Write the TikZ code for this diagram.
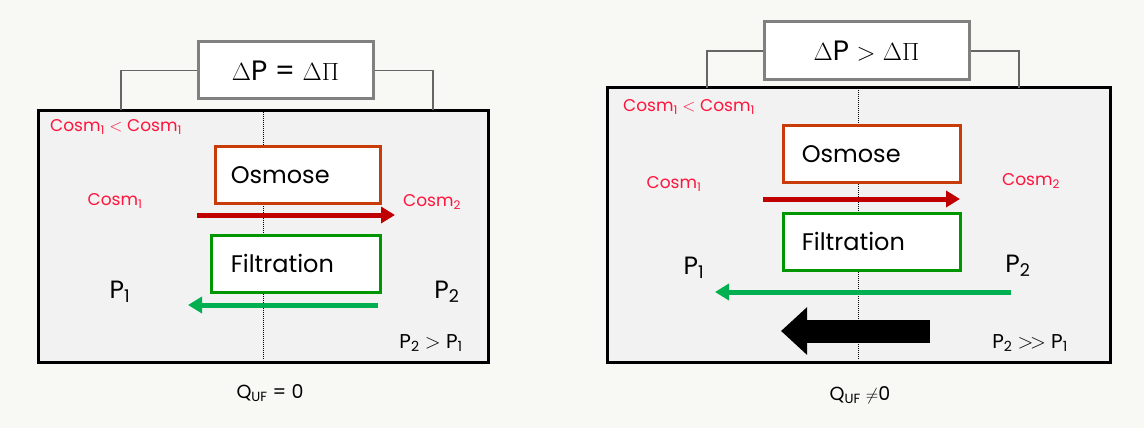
\documentclass[tikz,border=0pt]{standalone}
\usepackage{fontspec}
\setmainfont{Poppins}
\usetikzlibrary{arrows.meta}
\definecolor{pagebg}{RGB}{248,248,244}
\definecolor{panelbg}{RGB}{242,242,242}
\definecolor{osmred}{RGB}{200,60,10}
\definecolor{arrred}{RGB}{192,0,0}
\definecolor{filtgreen}{RGB}{0,150,0}
\definecolor{arrgreen}{RGB}{0,176,80}
\definecolor{cosmred}{RGB}{255,20,60}
\newcommand{\sbs}[1]{\textsubscript{#1}}
\begin{document}
\begin{tikzpicture}[
  x=1pt, y=-1pt,
  panel/.style={draw=black, line width=3pt, fill=panelbg},
  membrane/.style={densely dotted, line width=1pt},
  bracket/.style={draw=gray!80!black, line width=1.3pt},
  block_delta/.style={rectangle, draw=gray, line width=3pt, fill=white, font=\fontsize{28}{32}\selectfont,
    inner sep=0pt},
  block_osm/.style={rectangle, draw=osmred, line width=2.5pt, fill=white, font=\fontsize{24}{28}\selectfont,
    inner sep=0pt, text width=150pt, minimum height=57pt},
  block_filt/.style={rectangle, draw=filtgreen, line width=2.5pt, fill=white, font=\fontsize{24}{28}\selectfont,
    inner sep=0pt, text width=150pt, minimum height=57pt},
  cosm/.style={text=cosmred, font=\fontsize{17}{20}\selectfont, inner sep=0pt},
  pres/.style={font=\fontsize{25}{30}\selectfont, inner sep=0pt},
  rel/.style={font=\fontsize{20}{24}\selectfont, inner sep=0pt},
  flux/.style={font=\fontsize{19}{22}\selectfont, inner sep=0pt},
  red_arrow/.style={draw=arrred, line width=5pt, -{Triangle[length=14pt,width=16pt]}},
  green_arrow/.style={draw=arrgreen, line width=5pt, -{Triangle[length=14pt,width=16pt]}}
  ]
\useasboundingbox[fill=pagebg] (0,0) rectangle (1144,428);

% left panel
\draw [panel] (38,110) rectangle (488,362);
\draw [membrane] (263,112) -- (263,360);
\node [block_delta, minimum width=175pt, minimum height=57pt] (deltaL) at (285.5,70.5) {$\Delta$P = $\Delta\Pi$};
\coordinate (bl1) at (121,110);
\coordinate (bl2) at (433,110);
\draw [bracket] (bl1) |- (deltaL.west);
\draw [bracket] (bl2) |- (deltaL.east);
\node [cosm, anchor=west] (cmpL) at (50,127) {Cosm\sbs{1} $<$ Cosm\sbs{1}};
\node [block_osm, minimum width=165pt, anchor=north west] (osmL) at (214,145) {\hspace{8pt}Osmose};
\node [cosm] (c1L) at (115,201) {Cosm\sbs{1}};
\node [cosm] (c2L) at (432,202) {Cosm\sbs{2}};
\coordinate (raL1) at (197,215);
\coordinate (raL2) at (395,215);
\draw [red_arrow] (raL1) -- (raL2);
\node [block_filt, minimum width=169pt, anchor=north west] (filtL) at (210,234) {\hspace{10pt}Filtration};
\node [pres] (p1L) at (120,292) {P\sbs{1}};
\node [pres] (p2L) at (447,292) {P\sbs{2}};
\coordinate (gaL1) at (378,305);
\coordinate (gaL2) at (188,305);
\draw [green_arrow] (gaL1) -- (gaL2);
\node [rel] (relL) at (431,343) {P\sbs{2} $>$ P\sbs{1}};
\node [flux] (qL) at (270,393) {Q\sbs{UF} = 0};

% right panel
\draw [panel] (607,88) rectangle (1110,362);
\draw [membrane] (858,90) -- (858,360);
\node [block_delta, minimum width=205pt, minimum height=58pt] (deltaR) at (866.5,51) {$\Delta$P $>$ $\Delta\Pi$};
\coordinate (br1) at (707,88);
\coordinate (br2) at (1019,88);
\draw [bracket] (br1) |- (deltaR.west);
\draw [bracket] (br2) |- (deltaR.east);
\node [cosm, anchor=west] (cmpR) at (623,107) {Cosm\sbs{1} $<$ Cosm\sbs{1}};
\node [block_osm, minimum width=177pt, anchor=north west] (osmR) at (782,124) {\hspace{5pt}Osmose};
\node [cosm] (c1R) at (674,184) {Cosm\sbs{1}};
\node [cosm] (c2R) at (1031,181) {Cosm\sbs{2}};
\coordinate (raR1) at (763,199);
\coordinate (raR2) at (960,199);
\draw [red_arrow] (raR1) -- (raR2);
\node [block_filt, minimum width=177pt, anchor=north west] (filtR) at (782,212) {\hspace{5pt}Filtration};
\node [pres] (p1R) at (694,268) {P\sbs{1}};
\node [pres] (p2R) at (1018,266) {P\sbs{2}};
\coordinate (gaR1) at (1011,292);
\coordinate (gaR2) at (715,292);
\draw [green_arrow] (gaR1) -- (gaR2);
\coordinate (baR1) at (930,331);
\coordinate (baR2) at (781,331);
\draw [draw=black, line width=23pt, -{Triangle[length=26pt,width=46pt]}] (baR1) -- (baR2);
\node [rel] (relR) at (1030,343) {P\sbs{2} $>\!>$ P\sbs{1}};
\node [flux] (qR) at (860,395) {Q\sbs{UF} $\neq$0};
\end{tikzpicture}
\end{document}
